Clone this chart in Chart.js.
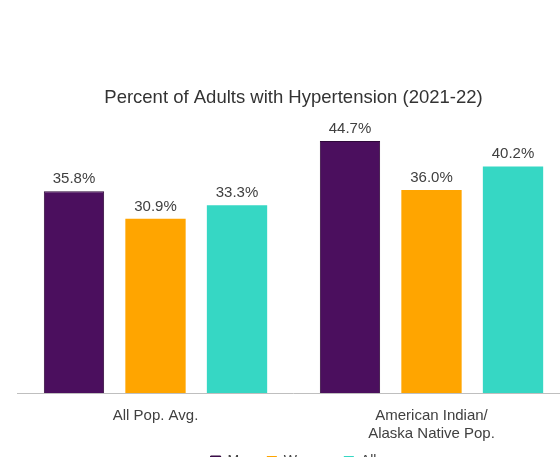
<!DOCTYPE html>
<html lang="en">

<head>
  <meta charset="UTF-8">
  <title>Hypertension</title>
  <script src="https://cdn.jsdelivr.net/npm/chart.js"></script>
  <style>
    html, body { margin: 0; padding: 0; overflow: hidden; background: #fff; }
    #wrap { width: 587px; height: 480px; }
  </style>
</head>

<body>
  <div id="wrap"><canvas id="htnChart"></canvas></div>

  <script>
    const categories = ['All Pop. Avg.', ['American Indian/', 'Alaska Native Pop.']];
    const menValues = [35.8, 44.7];
    const womenValues = [30.9, 36.0];
    const allValues = [33.3, 40.2];

    const fontFamily = '"Liberation Sans", Arial, sans-serif';

    // value labels above the bars
    const barLabels = {
      id: 'barLabels',
      afterDatasetsDraw(chart) {
        const ctx = chart.ctx;
        ctx.save();
        ctx.font = '15px ' + fontFamily;
        ctx.fillStyle = '#404040';
        ctx.textAlign = 'center';
        ctx.textBaseline = 'alphabetic';
        chart.data.datasets.forEach((ds, i) => {
          chart.getDatasetMeta(i).data.forEach((bar, j) => {
            ctx.fillText(ds.data[j].toFixed(1) + '%', bar.x, bar.y - 8);
          });
        });
        ctx.restore();
      }
    };

    const ctx = document.getElementById('htnChart').getContext('2d');
    const htnChart = new Chart(ctx, {
      type: 'bar',
      data: {
        labels: categories,
        datasets: [{
          label: 'Men',
          data: menValues,
          backgroundColor: '#4b0f5e',
          borderColor: '#2e0839',
          borderWidth: 1
        }, {
          label: 'Women',
          data: womenValues,
          backgroundColor: '#ffa500'
        }, {
          label: 'All',
          data: allValues,
          backgroundColor: '#36d7c4'
        }]
      },
      options: {
        responsive: true,
        maintainAspectRatio: false,
        animation: false,
        layout: { padding: { top: 87, left: 17.5, right: 17.5, bottom: 2 } },
        datasets: { bar: { categoryPercentage: 0.886, barPercentage: 0.74 } },
        plugins: {
          title: {
            display: true,
            text: 'Percent of Adults with Hypertension (2021-22)',
            color: '#333333',
            font: { family: fontFamily, size: 18.5, weight: 'normal' },
            padding: { top: 0, bottom: 2 }
          },
          legend: {
            position: 'bottom',
            labels: {
              color: '#404040',
              font: { family: fontFamily, size: 14 },
              boxWidth: 10,
              boxHeight: 10,
              padding: 12
            }
          },
          tooltip: { enabled: false }
        },
        scales: {
          x: {
            grid: { display: false },
            border: { display: true, color: '#bfbfbf', width: 1 },
            ticks: {
              color: '#404040',
              padding: 6,
              font: { family: fontFamily, size: 15, lineHeight: 1.18 }
            },
            afterFit(scale) { scale.height = 49; }
          },
          y: {
            display: false,
            min: 0,
            max: 50
          }
        }
      },
      plugins: [barLabels]
    });
  </script>
</body>

</html>
